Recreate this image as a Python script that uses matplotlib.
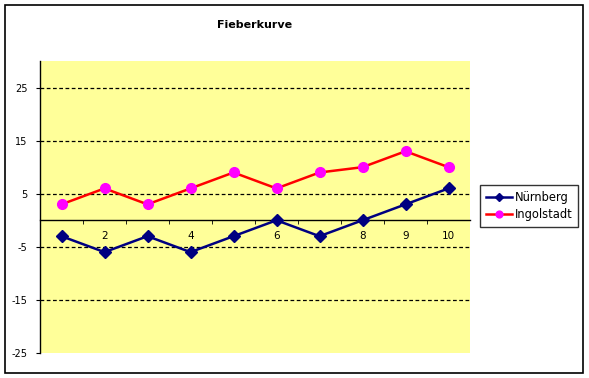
import numpy as np
import matplotlib.pyplot as plt
from matplotlib.patches import Rectangle

# data
tage = [1, 2, 3, 4, 5, 6, 7, 8, 9, 10]
nuernberg = [-3, -6, -3, -6, -3, 0, -3, 0, 3, 6]
ingolstadt = [3, 6, 3, 6, 9, 6, 9, 10, 13, 10]
# 1, 3, 5, 7 sit under the markers in the original, so they don't show
xlabels = ["", "2", "", "4", "", "6", "", "8", "9", "10"]
yticks = [-25, -15, -5, 5, 15, 25]

W, H = 589, 378
fig = plt.figure(figsize=(W / 100, H / 100), dpi=100)

# outer chart border
fig.patches.append(Rectangle((5 / W, 5 / H), 578 / W, 368 / H, transform=fig.transFigure,
                             fill=False, edgecolor="black", linewidth=1.2))

ax = fig.add_axes([40 / W, (H - 353) / H, 430 / W, 292 / H])
ax.set_facecolor("#FFFF99")
ax.set_xlim(0.5, 10.5)
ax.set_ylim(-25, 30)

for y in [-15, -5, 5, 15, 25]:
    ax.axhline(y, color="black", linestyle=(0, (3, 2)), linewidth=0.9, zorder=1)

ax.plot(tage, nuernberg, color="#000080", linewidth=1.8, marker="D", markersize=6,
        markerfacecolor="#000080", markeredgecolor="#000080", label="Nürnberg", zorder=3)
ax.plot(tage, ingolstadt, color="#FF0000", linewidth=1.8, marker="o", markersize=7,
        markerfacecolor="#FF00FF", markeredgecolor="#FF00FF", label="Ingolstadt", zorder=3)

ax.spines["top"].set_visible(False)
ax.spines["right"].set_visible(False)
ax.spines["bottom"].set_position(("data", 0))
ax.spines["left"].set_linewidth(1)
ax.spines["bottom"].set_linewidth(1)

ax.set_yticks(yticks)
ax.set_yticklabels([str(v) for v in yticks], fontsize=7)
ax.tick_params(axis="y", direction="out", length=3, pad=6)

ax.set_xticks(tage)
ax.set_xticklabels(xlabels, fontsize=7.5)
ax.set_xticks(np.arange(1.5, 10.5, 1), minor=True)
ax.tick_params(axis="x", which="major", length=0, pad=8)
ax.tick_params(axis="x", which="minor", direction="out", length=3)

ax.set_title("Fieberkurve", fontsize=8, fontweight="bold", pad=24)

leg = ax.legend(loc="center left", bbox_to_anchor=((480 - 40) / 430, (353 - 206) / 292),
                fontsize=8.3, frameon=True, fancybox=False, edgecolor="black",
                handlelength=2.3, borderpad=0.5, labelspacing=0.35, handletextpad=0.2,
                borderaxespad=0, markerscale=0.7)
leg.get_frame().set_linewidth(1)

fig.savefig("out.png", dpi=100)
